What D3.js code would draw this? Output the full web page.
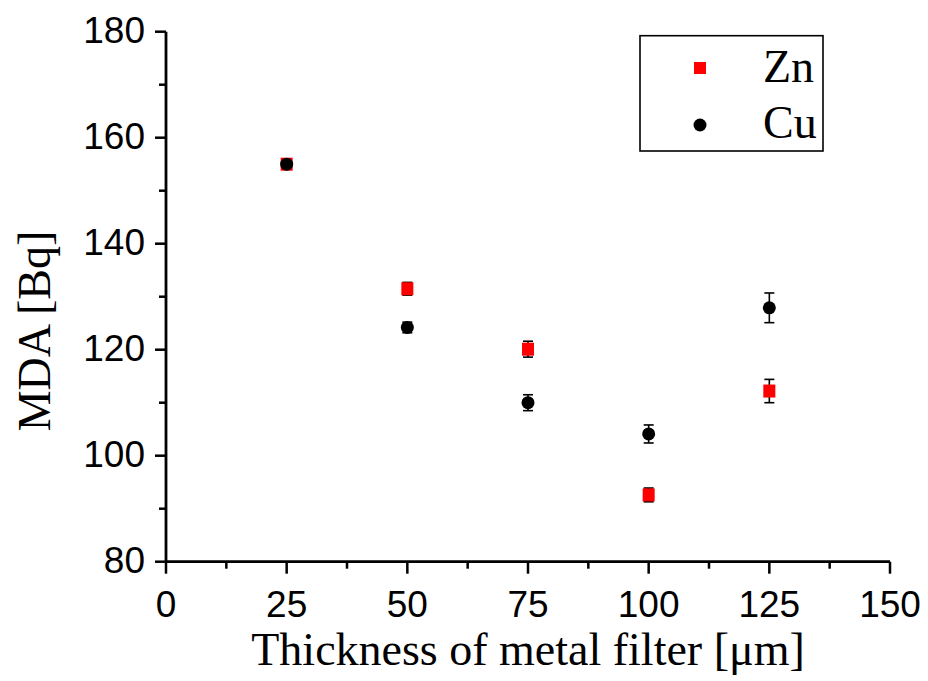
<!DOCTYPE html>
<html><head><meta charset="utf-8">
<script src="https://cdn.jsdelivr.net/npm/d3@7"></script>
<style>body{margin:0;background:#fff}svg{display:block}</style>
</head><body>
<script>
const thickness = [25, 50, 75, 100, 125];
const znValues = [155.0, 131.5, 120.1, 92.6, 112.2];
const znErrors = [0.5, 1.2, 1.5, 1.3, 2.2];
const cuValues = [155.0, 124.2, 110.0, 104.1, 127.9];
const cuErrors = [0.5, 1.0, 1.5, 1.7, 2.8];
const xTicks = [0, 25, 50, 75, 100, 125, 150];
const yTicks = [80, 100, 120, 140, 160, 180];
const xMinor = [12.5, 37.5, 62.5, 87.5, 112.5, 137.5];
const yMinor = [90, 110, 130, 150, 170];
const seriesNames = ["Zn", "Cu"];

const W = 928, H = 681;
const svg = d3.select("body").append("svg").attr("width", W).attr("height", H);
const x = d3.scaleLinear().domain([0, 150]).range([166, 890]);
const y = d3.scaleLinear().domain([80, 180]).range([561.7, 31.7]);

const ax = svg.append("g");
// minor ticks
ax.selectAll(".xm").data(xMinor).join("line")
  .attr("x1", d => x(d)).attr("x2", d => x(d)).attr("y1", y(80)).attr("y2", y(80) + 7)
  .attr("stroke", "#000").attr("stroke-width", 2.5);
ax.selectAll(".ym").data(yMinor).join("line")
  .attr("y1", d => y(d)).attr("y2", d => y(d)).attr("x1", x(0)).attr("x2", x(0) - 7)
  .attr("stroke", "#000").attr("stroke-width", 2.5);
// major ticks
ax.selectAll(".xM").data(xTicks).join("line")
  .attr("x1", d => x(d)).attr("x2", d => x(d)).attr("y1", y(80)).attr("y2", y(80) + 12)
  .attr("stroke", "#000").attr("stroke-width", 2.5);
ax.selectAll(".yM").data(yTicks).join("line")
  .attr("y1", d => y(d)).attr("y2", d => y(d)).attr("x1", x(0)).attr("x2", x(0) - 11)
  .attr("stroke", "#000").attr("stroke-width", 2.5);
// axis lines
ax.append("line").attr("x1", x(0)).attr("x2", x(150)).attr("y1", y(80)).attr("y2", y(80))
  .attr("stroke", "#000").attr("stroke-width", 2.8);
ax.append("line").attr("x1", x(0)).attr("x2", x(0)).attr("y1", y(80)).attr("y2", y(180))
  .attr("stroke", "#000").attr("stroke-width", 2.8);
// tick labels
ax.selectAll(".xl").data(xTicks).join("text")
  .attr("x", d => x(d)).attr("y", 617).attr("text-anchor", "middle")
  .attr("font-family", "Liberation Sans, Arial, sans-serif").attr("font-size", 37)
  .text(d => d);
ax.selectAll(".yl").data(yTicks).join("text")
  .attr("x", 145).attr("y", d => y(d) + 11.5).attr("text-anchor", "end")
  .attr("font-family", "Liberation Sans, Arial, sans-serif").attr("font-size", 37)
  .text(d => d);
// titles
svg.append("text").attr("x", 528).attr("y", 665).attr("text-anchor", "middle")
  .attr("font-family", "Liberation Serif, Times New Roman, serif").attr("font-size", 46)
  .text("Thickness of metal filter [\u03BCm]");
svg.append("text").attr("transform", "translate(50,331) rotate(-90)").attr("text-anchor", "middle")
  .attr("font-family", "Liberation Serif, Times New Roman, serif").attr("font-size", 46)
  .text("MDA [Bq]");

// data
function drawErr(vals, errs) {
  const g = svg.append("g").attr("stroke", "#000").attr("stroke-width", 1.6);
  thickness.forEach((t, i) => {
    const cx = x(t), y1 = y(vals[i] + errs[i]), y2 = y(vals[i] - errs[i]);
    g.append("line").attr("x1", cx).attr("x2", cx).attr("y1", y1).attr("y2", y2);
    g.append("line").attr("x1", cx - 5).attr("x2", cx + 5).attr("y1", y1).attr("y2", y1);
    g.append("line").attr("x1", cx - 5).attr("x2", cx + 5).attr("y1", y2).attr("y2", y2);
  });
}
drawErr(znValues, znErrors);
svg.append("g").selectAll("rect").data(thickness).join("rect")
  .attr("x", d => x(d) - 6).attr("y", (d, i) => y(znValues[i]) - 6.5)
  .attr("width", 12).attr("height", 13).attr("fill", "#ff0000");
drawErr(cuValues, cuErrors);
svg.append("g").selectAll("circle").data(thickness).join("circle")
  .attr("cx", d => x(d)).attr("cy", (d, i) => y(cuValues[i])).attr("r", 6.5).attr("fill", "#000");

// legend
const lg = svg.append("g");
lg.append("rect").attr("x", 640).attr("y", 35.7).attr("width", 183).attr("height", 115.3)
  .attr("fill", "none").attr("stroke", "#000").attr("stroke-width", 1.6);
lg.append("rect").attr("x", 694).attr("y", 62).attr("width", 12).attr("height", 12).attr("fill", "#ff0000");
lg.append("circle").attr("cx", 700).attr("cy", 125).attr("r", 6.5).attr("fill", "#000");
lg.selectAll("text").data(seriesNames).join("text")
  .attr("x", 763).attr("y", (d, i) => 82 + i * 56)
  .attr("font-family", "Liberation Serif, Times New Roman, serif").attr("font-size", 46)
  .text(d => d);
</script>
</body></html>
